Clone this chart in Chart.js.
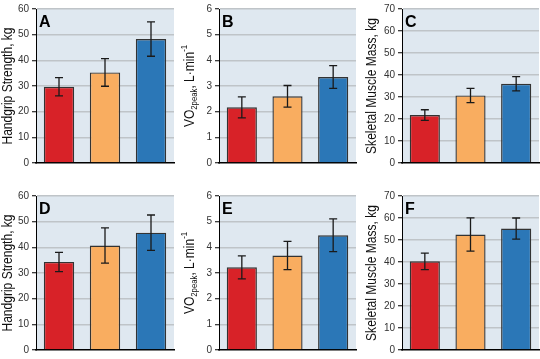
<!DOCTYPE html>
<html>
<head>
<meta charset="utf-8">
<script src="https://cdn.jsdelivr.net/npm/chart.js@4"></script>
<style>
  body { margin: 0; background: #fff; }
  #wrap { position: relative; width: 540px; height: 359px; }
  .panel { position: absolute; }
</style>
</head>
<body>
<div id="wrap"></div>
<script>
// three groups, colour coded (no x labels shown)
const groups = ["Group 1", "Group 2", "Group 3"]
const barColors = ["#d82228", "#f9ad60", "#2b77b7"]

// top row
const gripA = [29.7, 35.3, 48.3]
const gripAsd = [3.55, 5.4, 6.7]
const vo2B = [2.17, 2.6, 3.35]
const vo2Bsd = [0.41, 0.42, 0.44]
const smmC = [21.8, 30.7, 36.0]
const smmCsd = [2.4, 3.25, 3.25]

// bottom row
const gripD = [34.3, 40.7, 45.7]
const gripDsd = [3.75, 6.85, 6.9]
const vo2E = [3.22, 3.68, 4.47]
const vo2Esd = [0.45, 0.55, 0.64]
const smmF = [40.3, 52.5, 55.2]
const smmFsd = [3.75, 7.6, 4.8]

const gripTitle = [["Handgrip Strength, kg", "n"]]
const vo2Title = [["VO", "n"], ["2peak", "sub"], [", L·min", "n"], ["-1", "sup"]]
const smmTitle = [["Skeletal Muscle Mass, kg", "n"]]

const panels = [
  { id: "A", x: 0, y: 0, w: 180, h: 179, left: 36, right: 6, top: 3, bottom: 16, max: 60, step: 10, values: gripA, sd: gripAsd, title: gripTitle, titleX: 7 },
  { id: "B", x: 180, y: 0, w: 180, h: 179, left: 39, right: 4, top: 3, bottom: 16, max: 6, step: 1, values: vo2B, sd: vo2Bsd, title: vo2Title, titleX: 9 },
  { id: "C", x: 360, y: 0, w: 180, h: 179, left: 42, right: 1, top: 3, bottom: 16, max: 70, step: 10, values: smmC, sd: smmCsd, title: smmTitle, titleX: 11 },
  { id: "D", x: 0, y: 179, w: 180, h: 180, left: 36, right: 6, top: 17, bottom: 3, max: 60, step: 10, values: gripD, sd: gripDsd, title: gripTitle, titleX: 7 },
  { id: "E", x: 180, y: 179, w: 180, h: 180, left: 39, right: 4, top: 17, bottom: 3, max: 6, step: 1, values: vo2E, sd: vo2Esd, title: vo2Title, titleX: 9 },
  { id: "F", x: 360, y: 179, w: 180, h: 180, left: 42, right: 1, top: 17, bottom: 3, max: 70, step: 10, values: smmF, sd: smmFsd, title: smmTitle, titleX: 11 },
]

const FONT = "'Liberation Sans', Arial, sans-serif"

// light blue plot background
const bgPlugin = {
  id: "bg",
  beforeDraw(chart) {
    const a = chart.chartArea
    const ctx = chart.ctx
    ctx.save()
    ctx.fillStyle = "#dfe8f0"
    ctx.fillRect(a.left, a.top, a.right - a.left, a.bottom - a.top)
    ctx.restore()
  },
}

// error bars + panel letter + rotated y title with sub/superscripts
const extrasPlugin = {
  id: "extras",
  afterDatasetsDraw(chart, args, opts) {
    const ctx = chart.ctx
    const y = chart.scales.y
    const meta = chart.getDatasetMeta(0)
    ctx.save()
    ctx.strokeStyle = "#1a1a1a"
    ctx.lineWidth = 1.3
    meta.data.forEach((bar, i) => {
      const v = opts.values[i]
      const s = opts.sd[i]
      const yHi = y.getPixelForValue(v + s)
      const yLo = y.getPixelForValue(v - s)
      ctx.beginPath()
      ctx.moveTo(bar.x, yHi)
      ctx.lineTo(bar.x, yLo)
      ctx.moveTo(bar.x - 4, yHi)
      ctx.lineTo(bar.x + 4, yHi)
      ctx.moveTo(bar.x - 4, yLo)
      ctx.lineTo(bar.x + 4, yLo)
      ctx.stroke()
    })
    ctx.restore()

    const a = chart.chartArea
    ctx.save()
    ctx.fillStyle = "#000"
    ctx.font = "bold 16px " + FONT
    ctx.textBaseline = "top"
    ctx.fillText(opts.letter, a.left + 3, a.top + 6)
    ctx.restore()

    // y title (slightly condensed like the original)
    ctx.save()
    ctx.translate(opts.titleX, (a.top + a.bottom) / 2)
    ctx.rotate(-Math.PI / 2)
    ctx.scale(0.86, 1)
    ctx.fillStyle = "#111"
    ctx.textBaseline = "alphabetic"
    const sizes = { n: 14, sub: 9, sup: 9 }
    const shift = { n: 0, sub: 3, sup: -7 }
    let total = 0
    opts.title.forEach(([t, k]) => {
      ctx.font = sizes[k] + "px " + FONT
      total += ctx.measureText(t).width
    })
    let cx = -total / 2
    opts.title.forEach(([t, k]) => {
      ctx.font = sizes[k] + "px " + FONT
      ctx.fillText(t, cx, 5 + shift[k])
      cx += ctx.measureText(t).width
    })
    ctx.restore()
  },
}

const wrap = document.getElementById("wrap")

panels.forEach((p) => {
  const c = document.createElement("canvas")
  c.className = "panel"
  c.style.left = p.x + "px"
  c.style.top = p.y + "px"
  c.style.width = p.w + "px"
  c.style.height = p.h + "px"
  c.width = p.w
  c.height = p.h
  wrap.appendChild(c)

  new Chart(c, {
    type: "bar",
    data: {
      labels: groups,
      datasets: [
        {
          data: p.values,
          backgroundColor: barColors,
          borderColor: "#333",
          borderWidth: 1.4,
          categoryPercentage: 0.66,
          barPercentage: 1,
        },
      ],
    },
    options: {
      responsive: false,
      animation: false,
      events: [],
      layout: { padding: { top: p.top, right: p.right, left: 0, bottom: 0 } },
      plugins: {
        legend: { display: false },
        tooltip: { enabled: false },
        extras: { values: p.values, sd: p.sd, letter: p.id, title: p.title, titleX: p.titleX },
      },
      scales: {
        x: {
          ticks: { display: false },
          grid: { display: false, drawTicks: false },
          border: { display: true, color: "#000", width: 1.5 },
          afterFit(s) { s.height = p.bottom },
        },
        y: {
          min: 0,
          max: p.max,
          ticks: {
            stepSize: p.step,
            color: "#333",
            font: { family: FONT, size: 10 },
            padding: 3,
          },
          grid: {
            color: (ctx) => (ctx.tick && ctx.tick.value === 0 ? "rgba(0,0,0,0)" : "#bfc4c8"),
            lineWidth: 1.5,
            tickColor: "#000",
            tickLength: 4,
            tickWidth: 1,
          },
          border: { display: true, color: "#000", width: 1 },
          afterFit(s) { s.width = p.left },
        },
      },
    },
    plugins: [bgPlugin, extrasPlugin],
  })
})
</script>
</body>
</html>
